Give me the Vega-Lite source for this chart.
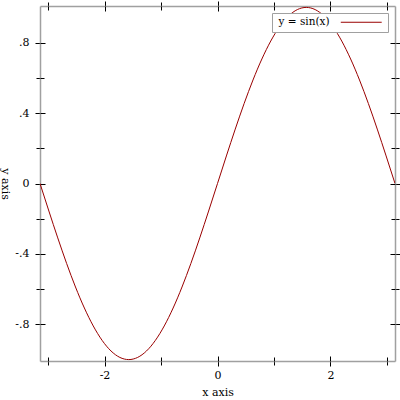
{
  "$schema": "https://vega.github.io/schema/vega-lite/v6.json",
  "width": 355,
  "height": 355,
  "autosize": "none",
  "padding": {"left": 40, "top": 6, "right": 5, "bottom": 39},
  "background": "white",
  "config": {
    "view": {"stroke": null},
    "font": "DejaVu Serif",
    "axis": {
      "labelFont": "DejaVu Serif",
      "titleFont": "DejaVu Serif",
      "labelFontSize": 11,
      "titleFontSize": 11,
      "titleFontWeight": "normal",
      "labelColor": "black",
      "titleColor": "black",
      "tickColor": "black",
      "tickWidth": 1,
      "domainColor": "#a0a0a0",
      "domainWidth": 1.5,
      "grid": false
    },
    "legend": {"labelFont": "DejaVu Serif", "labelFontSize": 10.5}
  },
  "data": {
    "values": [
      {"x": -3.1416, "y": 0, "s": "y = sin(x)"},
      {"x": -2.9845, "y": -0.1564, "s": "y = sin(x)"},
      {"x": -2.8274, "y": -0.3090, "s": "y = sin(x)"},
      {"x": -2.6704, "y": -0.4540, "s": "y = sin(x)"},
      {"x": -2.5133, "y": -0.5878, "s": "y = sin(x)"},
      {"x": -2.3562, "y": -0.7071, "s": "y = sin(x)"},
      {"x": -2.1991, "y": -0.8090, "s": "y = sin(x)"},
      {"x": -2.0420, "y": -0.8910, "s": "y = sin(x)"},
      {"x": -1.8850, "y": -0.9511, "s": "y = sin(x)"},
      {"x": -1.7279, "y": -0.9877, "s": "y = sin(x)"},
      {"x": -1.5708, "y": -1.0, "s": "y = sin(x)"},
      {"x": -1.4137, "y": -0.9877, "s": "y = sin(x)"},
      {"x": -1.2566, "y": -0.9511, "s": "y = sin(x)"},
      {"x": -1.0996, "y": -0.8910, "s": "y = sin(x)"},
      {"x": -0.9425, "y": -0.8090, "s": "y = sin(x)"},
      {"x": -0.7854, "y": -0.7071, "s": "y = sin(x)"},
      {"x": -0.6283, "y": -0.5878, "s": "y = sin(x)"},
      {"x": -0.4712, "y": -0.4540, "s": "y = sin(x)"},
      {"x": -0.3142, "y": -0.3090, "s": "y = sin(x)"},
      {"x": -0.1571, "y": -0.1564, "s": "y = sin(x)"},
      {"x": 0, "y": 0, "s": "y = sin(x)"},
      {"x": 0.1571, "y": 0.1564, "s": "y = sin(x)"},
      {"x": 0.3142, "y": 0.3090, "s": "y = sin(x)"},
      {"x": 0.4712, "y": 0.4540, "s": "y = sin(x)"},
      {"x": 0.6283, "y": 0.5878, "s": "y = sin(x)"},
      {"x": 0.7854, "y": 0.7071, "s": "y = sin(x)"},
      {"x": 0.9425, "y": 0.8090, "s": "y = sin(x)"},
      {"x": 1.0996, "y": 0.8910, "s": "y = sin(x)"},
      {"x": 1.2566, "y": 0.9511, "s": "y = sin(x)"},
      {"x": 1.4137, "y": 0.9877, "s": "y = sin(x)"},
      {"x": 1.5708, "y": 1.0, "s": "y = sin(x)"},
      {"x": 1.7279, "y": 0.9877, "s": "y = sin(x)"},
      {"x": 1.8850, "y": 0.9511, "s": "y = sin(x)"},
      {"x": 2.0420, "y": 0.8910, "s": "y = sin(x)"},
      {"x": 2.1991, "y": 0.8090, "s": "y = sin(x)"},
      {"x": 2.3562, "y": 0.7071, "s": "y = sin(x)"},
      {"x": 2.5133, "y": 0.5878, "s": "y = sin(x)"},
      {"x": 2.6704, "y": 0.4540, "s": "y = sin(x)"},
      {"x": 2.8274, "y": 0.3090, "s": "y = sin(x)"},
      {"x": 2.9845, "y": 0.1564, "s": "y = sin(x)"},
      {"x": 3.1416, "y": 0, "s": "y = sin(x)"}
    ]
  },
  "resolve": {"axis": {"x": "independent", "y": "independent"}},
  "layer": [
    {
      "mark": {"type": "line", "interpolate": "monotone", "strokeWidth": 1, "clip": true},
      "encoding": {
        "x": {
          "field": "x", "type": "quantitative",
          "scale": {"domain": [-3.1416, 3.1416], "nice": false, "zero": false},
          "axis": {
            "orient": "bottom", "title": "x axis", "values": [-3, -2, -1, 0, 1, 2, 3],
            "labelExpr": "datum.value % 2 == 0 ? '' + datum.value : ''",
            "tickSize": {"condition": {"test": "datum.value % 2 == 0", "value": 5}, "value": 4},
            "labelPadding": 3, "titlePadding": 6
          }
        },
        "y": {
          "field": "y", "type": "quantitative",
          "scale": {"domain": [-1.008, 1.008], "nice": false, "zero": false},
          "axis": {
            "orient": "left", "title": "y axis", "titleAngle": 90, "titlePadding": 15,
            "values": [-0.8, -0.6, -0.4, -0.2, 0, 0.2, 0.4, 0.6, 0.8],
            "labelExpr": "abs(round(datum.value * 10)) % 4 != 0 ? '' : (datum.value == 0 ? '0' : (datum.value < 0 ? '-' : '') + substring(format(abs(datum.value), '.1f'), 1))",
            "tickSize": {"condition": {"test": "abs(round(datum.value * 10)) % 4 == 0", "value": 5}, "value": 4},
            "labelPadding": 6
          }
        },
        "color": {
          "field": "s", "type": "nominal",
          "scale": {"range": ["#990000"]},
          "legend": {
            "title": null, "orient": "top-right", "offset": 7,
            "symbolType": "M -5 0 L 5 0", "symbolSize": 67, "symbolStrokeWidth": 1,
            "symbolOffset": 80, "labelAlign": "left", "labelOffset": -88,
            "fillColor": "white", "strokeColor": "#a0a0a0", "padding": 4
          }
        }
      }
    },
    {
      "mark": {"type": "line", "strokeOpacity": 0},
      "encoding": {
        "x": {
          "field": "x", "type": "quantitative",
          "axis": {
            "orient": "bottom", "title": null, "labels": false, "domain": false,
            "values": [-3, -2, -1, 0, 1, 2, 3],
            "tickSize": {"condition": {"test": "datum.value % 2 == 0", "value": -5}, "value": -4}
          }
        },
        "y": {
          "field": "y", "type": "quantitative",
          "axis": {
            "orient": "left", "title": null, "labels": false, "domain": false,
            "values": [-0.8, -0.6, -0.4, -0.2, 0, 0.2, 0.4, 0.6, 0.8],
            "tickSize": {"condition": {"test": "abs(round(datum.value * 10)) % 4 == 0", "value": -5}, "value": -4}
          }
        }
      }
    },
    {
      "mark": {"type": "line", "strokeOpacity": 0},
      "encoding": {
        "x": {
          "field": "x", "type": "quantitative",
          "axis": {
            "orient": "top", "title": null, "labels": false,
            "values": [-3, -2, -1, 0, 1, 2, 3],
            "tickSize": {"condition": {"test": "datum.value % 2 == 0", "value": 5}, "value": 4}
          }
        },
        "y": {
          "field": "y", "type": "quantitative",
          "axis": {
            "orient": "right", "title": null, "labels": false,
            "values": [-0.8, -0.6, -0.4, -0.2, 0, 0.2, 0.4, 0.6, 0.8],
            "tickSize": {"condition": {"test": "abs(round(datum.value * 10)) % 4 == 0", "value": 5}, "value": 4}
          }
        }
      }
    },
    {
      "mark": {"type": "line", "strokeOpacity": 0},
      "encoding": {
        "x": {
          "field": "x", "type": "quantitative",
          "axis": {
            "orient": "top", "title": null, "labels": false, "domain": false,
            "values": [-3, -2, -1, 0, 1, 2, 3],
            "tickSize": {"condition": {"test": "datum.value % 2 == 0", "value": -5}, "value": -4}
          }
        },
        "y": {
          "field": "y", "type": "quantitative",
          "axis": {
            "orient": "right", "title": null, "labels": false, "domain": false,
            "values": [-0.8, -0.6, -0.4, -0.2, 0, 0.2, 0.4, 0.6, 0.8],
            "tickSize": {"condition": {"test": "abs(round(datum.value * 10)) % 4 == 0", "value": -5}, "value": -4}
          }
        }
      }
    }
  ]
}
